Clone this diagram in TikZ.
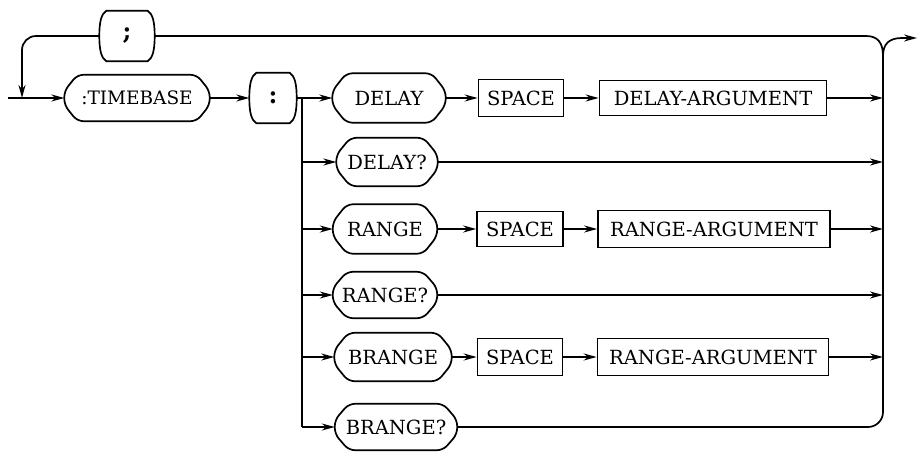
\documentclass[tikz,border=0pt]{standalone}
\usepackage{fontspec}
\setmainfont{DejaVu Serif}
\usetikzlibrary{arrows.meta,calc}
\tikzset{
  lbl/.style={font=\fontsize{19.5pt}{23pt}\selectfont, inner sep=0pt},
  term/.style={lbl},
  nonterm/.style={lbl, draw, line width=1.7pt},
  outl/.style={line width=1.7pt, rounded corners=6pt},
  wire/.style={line width=1.7pt},
  conn/.style={line width=1.7pt, -{Stealth[length=13pt,width=7pt]}},
}
\newcommand\octo[2][14pt]{%
  \draw[outl] ($(#2.north west)+(#1,0pt)$) -- ($(#2.north east)+(-#1,0pt)$)
    -- ($(#2.east)+(0pt,7pt)$) -- ($(#2.east)+(0pt,-7pt)$)
    -- ($(#2.south east)+(-#1,0pt)$) -- ($(#2.south west)+(#1,0pt)$)
    -- ($(#2.west)+(0pt,-7pt)$) -- ($(#2.west)+(0pt,7pt)$) -- cycle;}
\newcommand\bulge[1]{%
  \draw[wire, line join=round] ($(#1.north west)+(7pt,0pt)$) -- ($(#1.north east)+(-7pt,0pt)$)
    .. controls ($(#1.north east)+(-2pt,-3pt)$) and ($(#1.east)+(0pt,14pt)$) .. (#1.east)
    .. controls ($(#1.east)+(0pt,-14pt)$) and ($(#1.south east)+(-2pt,3pt)$) .. ($(#1.south east)+(-7pt,0pt)$)
    -- ($(#1.south west)+(7pt,0pt)$)
    .. controls ($(#1.south west)+(2pt,3pt)$) and ($(#1.west)+(0pt,-14pt)$) .. (#1.west)
    .. controls ($(#1.west)+(0pt,14pt)$) and ($(#1.north west)+(2pt,-3pt)$) .. cycle;}
\begin{document}
\begin{tikzpicture}[x=1pt,y=-1pt]
\useasboundingbox (0,0) rectangle (918,452);
% terminals and nonterminals
\node[term, minimum width=55pt, minimum height=50pt, font=\fontsize{24pt}{26pt}\selectfont\bfseries] (semi) at (127,36) {;};
\node[term, minimum width=145pt, minimum height=46pt, font=\fontsize{18.5pt}{22pt}\selectfont] (tb) at (137,98) {:TIMEBASE};
\node[term, minimum width=47pt, minimum height=50pt, font=\fontsize{24pt}{26pt}\selectfont\bfseries] (col) at (273,98) {:};
% row 1
\node[term, minimum width=113pt, minimum height=49pt] (delay) at (389,98) {DELAY};
\node[nonterm, minimum width=85pt, minimum height=37pt] (sp1) at (521,98) {SPACE};
\node[nonterm, minimum width=227pt, minimum height=35pt] (darg) at (713,98) {DELAY-ARGUMENT};
% row 2
\node[term, minimum width=101pt, minimum height=48pt] (delayq) at (387,162) {DELAY?};
% row 3
\node[term, minimum width=104pt, minimum height=49pt] (range) at (385,229) {RANGE};
\node[nonterm, minimum width=86pt, minimum height=35pt] (sp3) at (520,229) {SPACE};
\node[nonterm, minimum width=232pt, minimum height=37pt] (rarg3) at (714,229) {RANGE-ARGUMENT};
% row 4
\node[term, minimum width=104pt, minimum height=46pt] (rangeq) at (385,295) {RANGE?};
% row 5
\node[term, minimum width=117pt, minimum height=48pt] (brange) at (393,357) {BRANGE};
\node[nonterm, minimum width=85pt, minimum height=37pt] (sp5) at (520,357) {SPACE};
\node[nonterm, minimum width=231pt, minimum height=37pt] (rarg5) at (713,357) {RANGE-ARGUMENT};
% row 6
\node[term, minimum width=122pt, minimum height=46pt] (brangeq) at (396,427) {BRANGE?};
% outlines
\bulge{semi}
\bulge{col}
\octo[13pt]{tb}
\octo{delay}
\octo{delayq}
\octo{range}
\octo{rangeq}
\octo{brange}
\octo{brangeq}
% coordinates
\coordinate (start) at (8,98);
\coordinate (join) at (22,98);
\coordinate (bl1) at (302,98);
\coordinate (bl2) at (302,162);
\coordinate (bl3) at (302,229);
\coordinate (bl4) at (302,295);
\coordinate (bl5) at (302,357);
\coordinate (bl6) at (302,427);
\coordinate (br1) at (883,98);
\coordinate (br2) at (883,162);
\coordinate (br3) at (883,229);
\coordinate (br4) at (883,295);
\coordinate (br5) at (883,357);
\coordinate (br6) at (883,427);
\coordinate (btop) at (883,56);
\coordinate (tl) at (866,36);
\coordinate (ex) at (902,38);
\coordinate (exit) at (917,38);
% entry and loop
\draw[conn] (start) -- (tb.west);
\draw[conn, rounded corners=14pt] (semi.west) -| (join);
\draw[conn] (tb.east) -- (col.west);
% left bus
\draw[conn] (col.east) -- (delay.west);
\draw[wire] (bl1) -- (bl6);
\draw[conn] (bl2) -- (delayq.west);
\draw[conn] (bl3) -- (range.west);
\draw[conn] (bl4) -- (rangeq.west);
\draw[conn] (bl5) -- (brange.west);
\draw[conn] (bl6) -- (brangeq.west);
% row connectors
\draw[conn] (delay.east) -- (sp1.west);
\draw[conn] (sp1.east) -- (darg.west);
\draw[conn] (range.east) -- (sp3.west);
\draw[conn] (sp3.east) -- (rarg3.west);
\draw[conn] (brange.east) -- (sp5.west);
\draw[conn] (sp5.east) -- (rarg5.west);
% right bus
\draw[conn] (darg.east) -- (br1);
\draw[conn] (delayq.east) -- (br2);
\draw[conn] (rarg3.east) -- (br3);
\draw[conn] (rangeq.east) -- (br4);
\draw[conn] (rarg5.east) -- (br5);
\draw[wire, rounded corners=15pt] (brangeq.east) -- (br6) -- (btop);
\draw[wire] (semi.east) -- (tl) .. controls (878,36) and (883,43) .. (btop);
\draw[conn] (btop) .. controls (883,44) and (889,38) .. (ex) -- (exit);
\end{tikzpicture}
\end{document}
